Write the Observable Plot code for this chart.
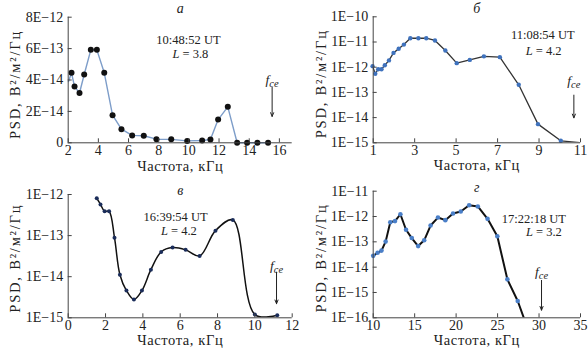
<!DOCTYPE html>
<html><head><meta charset="utf-8">
<script src="https://cdn.jsdelivr.net/npm/d3@7"></script>
<script src="https://cdn.jsdelivr.net/npm/@observablehq/plot@0.6"></script>
<style>
body{margin:0;background:#fff;}
#wrap{position:relative;width:588px;height:351px;overflow:hidden;background:#fff;}
#wrap svg{position:absolute;overflow:visible;}
</style></head><body><div id="wrap"></div>
<script>
// ---------- Panel а (linear) ----------
const aFreq = [2.22, 2.42, 2.75, 3.06, 3.5, 3.9, 4.39, 4.94, 5.53, 6.24, 7.01, 7.85, 8.83, 9.89, 10.88, 11.43, 11.94, 12.58, 13.2, 13.86, 14.54, 15.25];
const aPsd  = [4.46, 3.58, 3.17, 4.35, 5.92, 5.92, 4.46, 1.76, 0.87, 0.47, 0.45, 0.23, 0.22, 0.12, 0.15, 0.21, 1.48, 2.29, 0, 0, 0, 0];
const aLeadFreq = [2.02], aLeadPsd = [3.9];
const aXTicks = [2, 4, 6, 8, 10, 12, 14, 16];
const aYTicks = [0, 2, 4, 6, 8];
const aYLabels = ["0", "2E−14", "4E−14", "6E−13", "8E−12"];
const aTime = "10:48:52 UT", aL = "L = 3.8";

// ---------- Panel б (log) ----------
const bFreq = [0.97, 1.1, 1.24, 1.4, 1.56, 1.76, 1.98, 2.23, 2.48, 2.79, 3.18, 3.56, 3.98, 4.48, 5.03, 5.66, 6.34, 7.11, 8.02, 8.95, 10.05];
const bPsd  = [1.1e-12, 5.5e-13, 8.3e-13, 8.3e-13, 1.2e-12, 1.86e-12, 3.7e-12, 5.4e-12, 7.9e-12, 1.41e-11, 1.41e-11, 1.41e-11, 1.15e-11, 4.6e-12, 1.45e-12, 1.95e-12, 2.7e-12, 2.5e-12, 2.0e-13, 5.5e-15, 1.2e-15];
const bTailFreq = [11.0], bTailPsd = [1.02e-15];
const bXTicks = [1, 3, 5, 7, 9, 11];
const bYTicks = [1e-15, 1e-14, 1e-13, 1e-12, 1e-11, 1e-10];
const bYLabels = ["1E−15", "1E−14", "1E−13", "1E−12", "1E−11", "1E−10"];
const bTime = "11:08:54 UT", bL = "L = 4.2";

// ---------- Panel в (log, smooth) ----------
const cFreq = [1.53, 1.73, 1.95, 2.19, 2.48, 2.77, 3.12, 3.52, 3.95, 4.43, 4.98, 5.59, 6.29, 7.04, 7.89, 8.82, 10.0, 11.2];
const cPsd  = [8.1e-13, 5.75e-13, 3.9e-13, 3.9e-13, 8.9e-14, 1.12e-14, 4.6e-15, 2.8e-15, 4.6e-15, 1.48e-14, 4.0e-14, 5.1e-14, 4.5e-14, 3.2e-14, 1.32e-13, 2.4e-13, 1.2e-15, 1.15e-15];
const cXTicks = [0, 2, 4, 6, 8, 10, 12];
const cYTicks = [1e-15, 1e-14, 1e-13, 1e-12];
const cYLabels = ["1E−15", "1E−14", "1E−13", "1E−12"];
const cTime = "16:39:54 UT", cL = "L = 4.2";

// ---------- Panel г (log) ----------
const dFreq = [10.0, 10.53, 11.0, 11.5, 12.06, 12.63, 13.28, 13.96, 14.65, 15.42, 16.15, 16.92, 17.81, 18.7, 19.63, 20.56, 21.57, 22.62, 23.79, 24.97, 26.18, 27.43];
const dPsd  = [2.8e-14, 3.7e-14, 4.5e-14, 1.02e-13, 5.9e-13, 6.6e-13, 1.23e-12, 3.0e-13, 1.41e-13, 6.8e-14, 1.15e-13, 4.4e-13, 9.1e-13, 7.2e-13, 1.32e-12, 1.58e-12, 2.8e-12, 2.5e-12, 8.1e-13, 1.66e-13, 3.3e-15, 4.6e-16];
const dTailFreq = [28.6], dTailPsd = [4e-17];
const dXTicks = [10, 15, 20, 25, 30, 35];
const dYTicks = [1e-16, 1e-15, 1e-14, 1e-13, 1e-12, 1e-11];
const dYLabels = ["1E−16", "1E−15", "1E−14", "1E−13", "1E−12", "1E−11"];
const dTime = "17:22:18 UT", dL = "L = 3.2";

// f_ce arrows: [x, yStart, yEnd, yLabel]
const aFce = [15.52, 3.54, 1.68, 4.05];
const bFce = [10.68, 7.8e-14, 9.8e-15, 2.8e-13];
const cFce = [11.16, 1.29e-14, 2.2e-15, 1.86e-14];
const dFce = [30.3, 3.0e-15, 2.0e-16, 6.5e-15];

const titles = ["а", "б", "в", "г"];
const xLabel = "Частота, кГц";
const yLabel = "PSD, В²/м²/Гц";

const FONT = '"Liberation Serif", "DejaVu Serif", serif';
const INK = "#222";
const FS = 14;      // tick labels
const FSL = 14.5;   // axis titles
const FSA = 12.5;   // annotations

function rows(xs, ys) { return xs.map((x, i) => ({x, y: ys[i]})); }

function commonMarks(o) {
  const [xmin] = o.xDomain, [ymin] = o.yDomain;
  return [
    Plot.ruleX([xmin], {stroke: "#444", strokeWidth: 1}),
    Plot.ruleY([ymin], {stroke: "#444", strokeWidth: 1}),
    Plot.axisX({ticks: o.xTicks, tickSize: -4, tickPadding: 6.5, fontSize: FS, stroke: "#444", fill: INK, label: null, tickFormat: d => String(d)}),
    Plot.axisY({ticks: o.yTicks, tickSize: -4, tickPadding: 9, fontSize: FS, stroke: "#444", fill: INK, label: null, tickFormat: d => o.yLabels[o.yTicks.indexOf(d)]}),
    Plot.text([o.title], {frameAnchor: "top", lineAnchor: "middle", dy: o.titleDy, fontStyle: "italic", fontSize: FS, fill: INK}),
    Plot.text([xLabel], {frameAnchor: "bottom", textAnchor: "middle", lineAnchor: "middle", dy: o.xLabelDy, fontSize: FSL, fill: INK}),
    Plot.text([yLabel], {frameAnchor: "left", textAnchor: "middle", lineAnchor: "middle", dx: o.yLabelDx, dy: o.yLabelDy, rotate: -90, fontSize: FSL, fill: INK}),
    Plot.text([o.time], {x: o.timePos[0], y: o.timePos[1], fontSize: FSA, fill: INK}),
    Plot.text([o.lText], {x: o.lPos[0], y: o.lPos[1], fontSize: FSA, fill: INK}),
    Plot.arrow([o.fce], {x1: d => d[0], y1: d => d[1], x2: d => d[0], y2: d => d[2], stroke: "#222", strokeWidth: 1, headLength: 6, headAngle: 45}),
    Plot.text([o.fce], {x: d => d[0], y: d => d[3], text: () => "fce", fontSize: 13.5, fill: INK})
  ];
}

function makePanel(o) {
  const svg = Plot.plot({
    width: 294, height: o.height,
    marginLeft: o.m[0], marginRight: o.m[1], marginTop: o.m[2], marginBottom: o.m[3],
    style: {fontFamily: FONT, fontSize: FS + "px", background: "transparent", color: INK},
    x: {domain: o.xDomain},
    y: o.yType === "log" ? {type: "log", domain: o.yDomain} : {domain: o.yDomain},
    marks: [...o.dataMarks, ...commonMarks(o)]
  });
  svg.style.left = o.left + "px";
  svg.style.top = o.top + "px";
  svg.setAttribute("font-family", FONT);
  svg.querySelectorAll("g").forEach(g => { if (g.hasAttribute("font-family")) g.setAttribute("font-family", FONT); });
  svg.querySelectorAll("text").forEach(t => {
    t.style.fontFamily = FONT;
    const s = t.textContent;
    if (s === "fce") {
      t.innerHTML = '<tspan font-style="italic">f</tspan><tspan font-style="italic" font-size="10.5" dy="3">ce</tspan>';
    } else if (/^L = /.test(s)) {
      t.innerHTML = '<tspan font-style="italic">L</tspan>' + s.slice(1);
    } else if (s === yLabel) {
      t.style.letterSpacing = "1.8px";
    } else if (s === xLabel) {
      t.style.letterSpacing = "0.6px";
    }
  });
  document.getElementById("wrap").appendChild(svg);
}

const aLine = [...rows(aLeadFreq, aLeadPsd), ...rows(aFreq, aPsd)];
makePanel({
  left: 0, top: 0, height: 175, m: [67.7, 2.3, 16.7, 32.7],
  xDomain: [2, 16.85], yDomain: [0, 8], yType: "linear",
  xTicks: aXTicks, yTicks: aYTicks, yLabels: aYLabels,
  title: titles[0], titleDy: -8.7, xLabelDy: 23.5, yLabelDx: -52.5, yLabelDy: 4.5,
  time: aTime, timePos: [9.97, 6.56], lText: aL, lPos: [10.1, 5.66], fce: aFce,
  dataMarks: [
    Plot.line(aLine, {x: "x", y: "y", stroke: "#7d9dc9", strokeWidth: 1.4}),
    Plot.dot(rows(aFreq, aPsd), {x: "x", y: "y", r: 3, fill: "#111", stroke: "none"})
  ]
});

const bLine = [...rows(bFreq, bPsd), ...rows(bTailFreq, bTailPsd)];
makePanel({
  left: 294, top: 0, height: 175, m: [78.7, 8, 16.3, 32.7],
  xDomain: [1, 11], yDomain: [1e-15, 1e-10], yType: "log",
  xTicks: bXTicks, yTicks: bYTicks, yLabels: bYLabels,
  title: titles[1], titleDy: -8.3, xLabelDy: 23, yLabelDx: -51.5, yLabelDy: 4,
  time: bTime, timePos: [9.18, Math.pow(10, -10.72)], lText: bL, lPos: [9.22, Math.pow(10, -11.37)], fce: bFce,
  dataMarks: [
    Plot.line(bLine, {x: "x", y: "y", stroke: "#333", strokeWidth: 1.3, clip: true}),
    Plot.dot(rows(bFreq, bPsd), {x: "x", y: "y", r: 2.2, fill: "#3f72bd", stroke: "none"})
  ]
});

makePanel({
  left: 0, top: 175, height: 176, m: [67.7, 2.3, 19, 33.7],
  xDomain: [0, 12], yDomain: [1e-15, 1e-12], yType: "log",
  xTicks: cXTicks, yTicks: cYTicks, yLabels: cYLabels,
  title: titles[2], titleDy: -4, xLabelDy: 22.5, yLabelDx: -52.5, yLabelDy: 2,
  time: cTime, timePos: [5.75, Math.pow(10, -12.54)], lText: cL, lPos: [5.93, Math.pow(10, -12.89)], fce: cFce,
  dataMarks: [
    Plot.line(rows(cFreq, cPsd), {x: "x", y: "y", stroke: "#111", strokeWidth: 1.5, curve: "catmull-rom", clip: true}),
    Plot.dot(rows(cFreq, cPsd), {x: "x", y: "y", r: 2, fill: "#1b2d5a", stroke: "none"})
  ]
});

const dLine = [...rows(dFreq, dPsd), ...rows(dTailFreq, dTailPsd)];
makePanel({
  left: 294, top: 175, height: 176, m: [78.7, 8, 15.7, 33.7],
  xDomain: [10, 35], yDomain: [1e-16, 1e-11], yType: "log",
  xTicks: dXTicks, yTicks: dYTicks, yLabels: dYLabels,
  title: titles[3], titleDy: -4, xLabelDy: 23, yLabelDx: -51.5, yLabelDy: 3.5,
  time: dTime, timePos: [29.37, Math.pow(10, -12.08)], lText: dL, lPos: [30.58, Math.pow(10, -12.62)], fce: dFce,
  dataMarks: [
    Plot.line(dLine, {x: "x", y: "y", stroke: "#111", strokeWidth: 2, clip: true}),
    Plot.dot(rows(dFreq, dPsd), {x: "x", y: "y", r: 2.3, fill: "#4a7fc8", stroke: "none"})
  ]
});
</script></body></html>
